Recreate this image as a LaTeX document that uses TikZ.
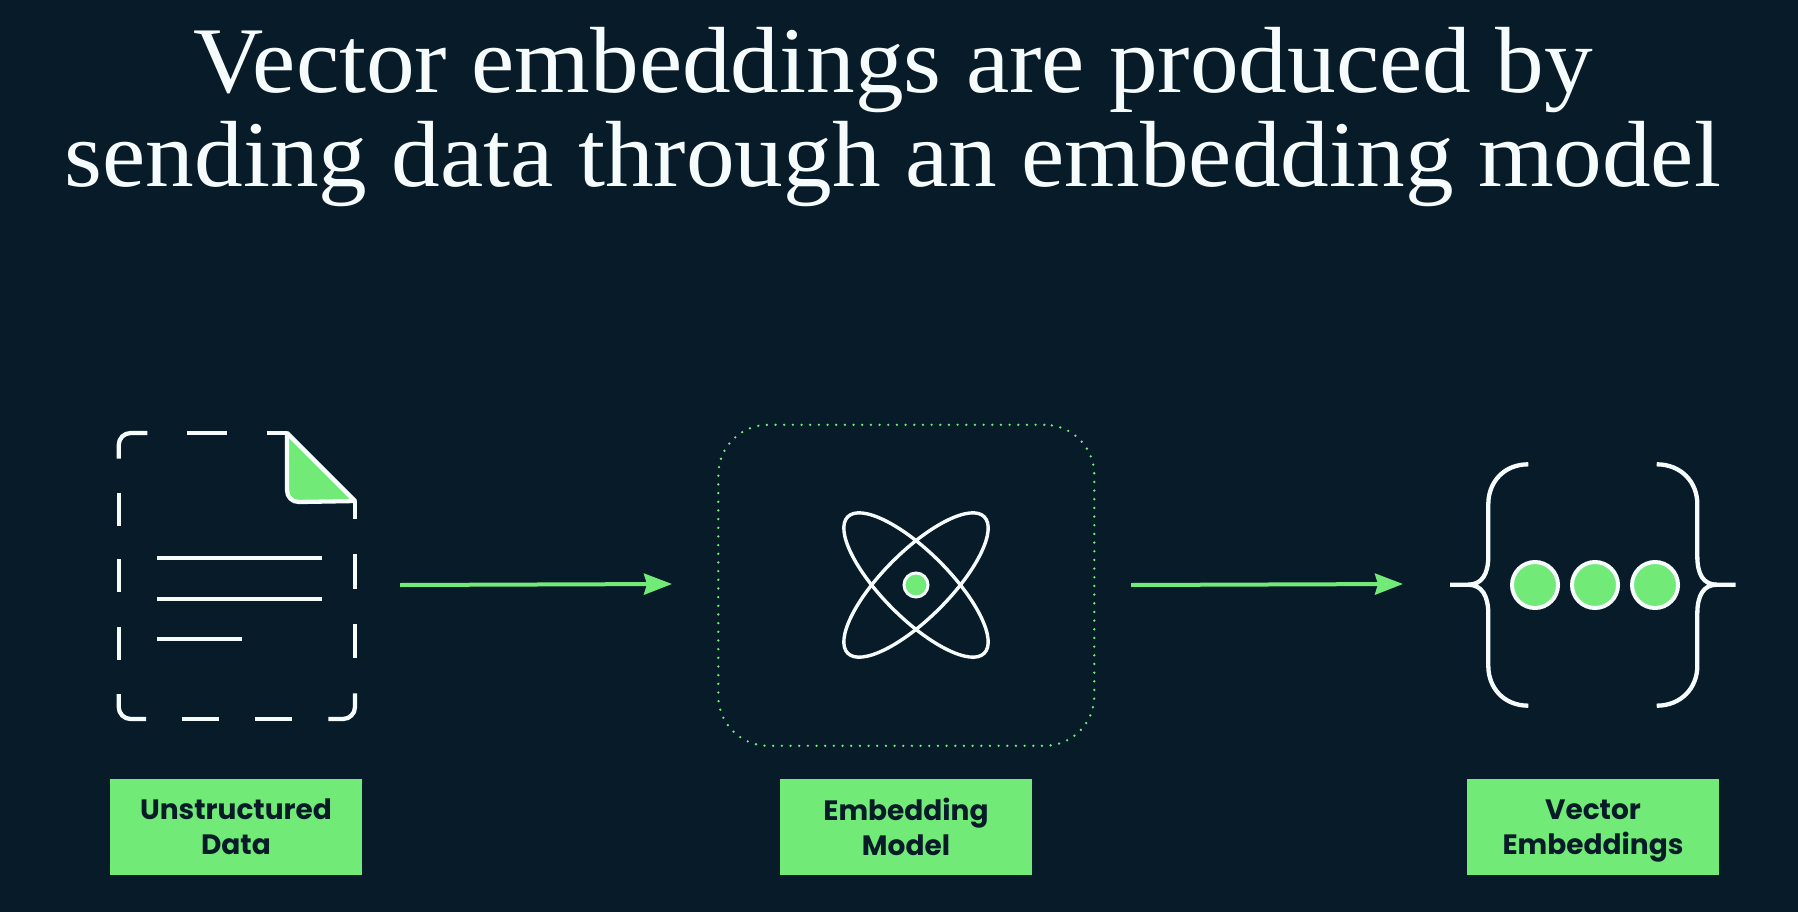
\documentclass[tikz,border=0pt]{standalone}
\usepackage{fontspec}
\setmainfont[FakeStretch=1.035]{Liberation Serif}
\newfontfamily\labelfont{Poppins}
\usetikzlibrary{arrows.meta}
\definecolor{bgdark}{HTML}{071C28}
\definecolor{leaf}{HTML}{71EA78}
\definecolor{chalk}{HTML}{F6FBFC}
\tikzset{
  titletext/.style={text=chalk, align=center, font=\fontsize{94}{94}\selectfont},
  tag/.style={fill=leaf, minimum width=252, minimum height=96, inner sep=0},
  tagtext/.style={text=bgdark, align=center, inner sep=0, yshift=-5pt,
    font=\labelfont\bfseries\fontsize{28}{35}\selectfont,
    execute at begin node=\strut, execute at end node=\strut},
  modelbox/.style={draw=leaf, line width=2.6, line cap=round, dash pattern=on 0pt off 8.67pt, rounded corners=50,
    minimum width=376, minimum height=321, inner sep=0},
  flow/.style={leaf, line width=4, -{Stealth[length=28, width=21, inset=3]}},
  icon/.style={chalk, line width=4.3},
  thinicon/.style={chalk, line width=3.4},
  dotfill/.style={draw=chalk, fill=leaf, line width=4},
}
\begin{document}
\begin{tikzpicture}[x=1pt, y=-1pt]
  \fill [bgdark] (0,0) rectangle (1798,912);

  \node [titletext] (title) at (893,117) {Vector embeddings are produced by\\sending data through an embedding model};

  \draw [icon, rounded corners=12] (118.7,458.7) -- (118.7,433) -- (147.3,433);
  \draw [icon] (187.3,433) -- (226.7,433);
  \draw [icon] (266.7,433) -- (287,433);
  \foreach \y in {492.7,559.3,626.7}
  \draw [icon] (118.7,\y) -- +(0,33);
  \draw [icon, rounded corners=12] (118.7,694) -- (118.7,719) -- (146,719);
  \draw [icon] (182.3,719) -- (219,719);
  \draw [icon] (255.3,719) -- (291.7,719);
  \draw [icon, rounded corners=12] (328.3,719) -- (355,719) -- (355,693.3);
  \draw [icon] (355,624) -- (355,658.3);
  \draw [icon] (355,554.3) -- (355,589);
  \draw [icon] (355,501) -- (355,519.3);
  \draw [icon, fill=leaf, line join=round] (287,433) -- (355,501) -- (299,502) .. controls (292,502) and (287,497) .. (287,490) -- cycle;

  \foreach \y/\xend in {558.3/322,598.7/322,638.7/241.7}
  \draw [icon] (156.7,\y) -- (\xend,\y);

  \node [modelbox] (model) at (906.3,585.3) {};
  \draw [thinicon, rotate around={45:(916,585)}] (916,585) ellipse [x radius=96.5, y radius=33.2];
  \draw [thinicon, rotate around={-45:(916,585)}] (916,585) ellipse [x radius=96.5, y radius=33.2];
  \draw [dotfill, line width=3] (916,585) circle (12);

  \draw [icon] (1528.3,464.3) .. controls (1504,464.3) and (1488.3,482) .. (1488.3,504) -- (1488.3,556)
  .. controls (1488.3,574) and (1482,584.7) .. (1468,584.7) -- (1450,584.7);
  \draw [icon] (1468,584.7) .. controls (1482,584.7) and (1488.3,596) .. (1488.3,614) -- (1488.3,666)
  .. controls (1488.3,688) and (1504,705.7) .. (1528.3,705.7);
  \draw [icon] (1656.7,464.3) .. controls (1681,464.3) and (1697.3,482) .. (1697.3,504) -- (1697.3,556)
  .. controls (1697.3,574) and (1703,584.7) .. (1717,584.7) -- (1735.7,584.7);
  \draw [icon] (1717,584.7) .. controls (1703,584.7) and (1697.3,596) .. (1697.3,614) -- (1697.3,666)
  .. controls (1697.3,688) and (1681,705.7) .. (1656.7,705.7);
  \foreach \x in {1535,1595,1655}
  \draw [dotfill] (\x,585) circle (23);

  \coordinate (docout) at (400,585);
  \coordinate (modelin) at (672,584);
  \coordinate (modelout) at (1131,585);
  \coordinate (vectorin) at (1403,584);
  \draw [flow] (docout) -- (modelin);
  \draw [flow] (modelout) -- (vectorin);

  \node [tag] (datatag) at (236,827) {};
  \node [tagtext] (datatext) at (datatag) {Unstructured\\Data};
  \node [tag] (modeltag) at (906,827) {};
  \node [tagtext] (modeltext) at (modeltag) {Embedding\\Model};
  \node [tag] (vectortag) at (1593,827) {};
  \node [tagtext] (vectortext) at (vectortag) {Vector\\Embeddings};
\end{tikzpicture}
\end{document}
